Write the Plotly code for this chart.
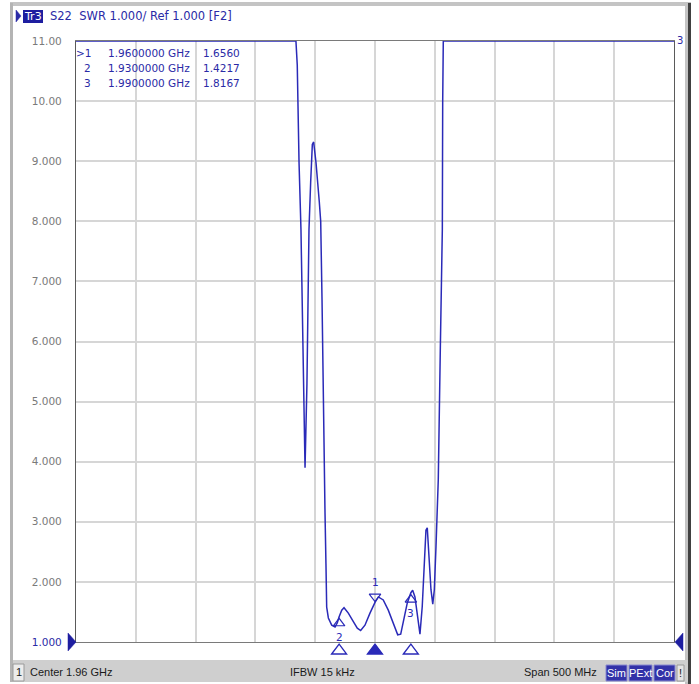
import plotly.graph_objects as go

# ---------------- data ----------------
freq_mhz = [1710.0, 1893.9, 1895.0, 1895.6, 1896.5, 1898.1, 1899.8, 1901.5, 1903.1,
            1904.8, 1906.2, 1907.1, 1907.6, 1908.7, 1909.4, 1910.7, 1913.4, 1914.6,
            1915.7, 1916.7, 1917.4, 1918.2, 1919.0, 1919.6, 1921.0, 1923.8, 1926.6,
            1928.5, 1930.0, 1932.2, 1934.1, 1937.7, 1941.9, 1945.2, 1948.0, 1951.6,
            1955.8, 1960.0, 1962.8, 1966.9, 1971.1, 1975.3, 1979.0, 1981.5, 1984.2,
            1987.0, 1990.0, 1991.5, 1993.4, 1995.4, 1997.6, 1999.5, 2001.0, 2002.6,
            2003.7, 2005.4, 2006.8, 2008.3, 2009.6, 2011.0, 2012.4, 2012.9, 2014.6,
            2016.3, 2016.6, 2017.1, 2210.0]
swr = [11.0, 11.0, 10.6, 9.85, 8.97, 7.86, 5.86, 3.9, 5.3,
       7.86, 8.65, 9.07, 9.28, 9.32, 9.2, 8.97, 8.33, 8.0,
       6.7, 5.0, 3.7, 3.15, 2.3, 1.58, 1.4, 1.28, 1.25,
       1.32, 1.42, 1.53, 1.57, 1.48, 1.34, 1.23, 1.19, 1.28,
       1.48, 1.66, 1.75, 1.70, 1.53, 1.31, 1.12, 1.13, 1.37,
       1.65, 1.82, 1.86, 1.75, 1.42, 1.13, 1.59, 2.31, 2.86,
       2.9, 2.42, 1.87, 1.63, 1.87, 2.59, 3.42, 3.7, 5.86,
       7.86, 9.97, 11.0, 11.0]

marker_ids = [">1", "2", "3"]
marker_num = ["1", "2", "3"]
marker_freq_ghz = [1.96, 1.93, 1.99]
marker_swr = [1.6560, 1.4217, 1.8167]
active_marker = 0

y_ticks = [1, 2, 3, 4, 5, 6, 7, 8, 9, 10, 11]
y_labels = ["1.000", "2.000", "3.000", "4.000", "5.000", "6.000", "7.000",
            "8.000", "9.000", "10.00", "11.00"]

center_ghz = 1.96
span_mhz = 500
header_text = "S22  SWR 1.000/ Ref 1.000 [F2]"
trace_tag = "Tr3"
footer_left = "Center 1.96 GHz"
footer_mid = "IFBW 15 kHz"
footer_right = "Span 500 MHz"
status_boxes = ["Sim", "PExt", "Cor"]

# ---------------- styling ----------------
W, H = 699, 684
L, R, T, B = 76, 674, 41, 642
TRACE = "#2a2ab8"
TXT_BLUE = "#2a2aa6"
GRID = "#d6d6d6"
FONT = "DejaVu Sans"
FOOT_FONT = "Liberation Sans"


def px(x):
    return (x - L) / (R - L)


def py(y):
    return (B - y) / (B - T)


freq_ghz = [f / 1000.0 for f in freq_mhz]
x0 = center_ghz - span_mhz / 2000.0
x1 = center_ghz + span_mhz / 2000.0
ghz_per_px = (x1 - x0) / (R - L)

fig = go.Figure()
fig.add_trace(go.Scatter(x=freq_ghz, y=swr, mode="lines",
                         line=dict(color=TRACE, width=1.5),
                         hoverinfo="skip", showlegend=False))

# markers on trace
fig.add_trace(go.Scatter(x=[marker_freq_ghz[0]], y=[marker_swr[0] + 0.1], mode="markers",
                         marker=dict(symbol="triangle-down-open", size=10,
                                     color=TRACE, line=dict(width=1.2, color=TRACE)),
                         hoverinfo="skip", showlegend=False, cliponaxis=False))
fig.add_trace(go.Scatter(x=marker_freq_ghz[1:], y=[v - 0.11 for v in marker_swr[1:]],
                         mode="markers",
                         marker=dict(symbol="triangle-up-open", size=10,
                                     color=TRACE, line=dict(width=1.2, color=TRACE)),
                         hoverinfo="skip", showlegend=False, cliponaxis=False))

annotations = []
# marker numbers on the trace
annotations.append(dict(x=marker_freq_ghz[0], y=marker_swr[0], xref="x", yref="y",
                        text=marker_num[0], showarrow=False, yshift=21,
                        font=dict(family=FONT, size=10.5, color=TRACE)))
for i in (1, 2):
    annotations.append(dict(x=marker_freq_ghz[i], y=marker_swr[i], xref="x", yref="y",
                            text=marker_num[i], showarrow=False, yshift=-20,
                            font=dict(family=FONT, size=10.5, color=TRACE)))

# marker table
for i in range(3):
    yy = py(53 + 15 * i)
    annotations.append(dict(x=px(93), y=yy, xref="paper", yref="paper", text=marker_ids[i],
                            xanchor="right", yanchor="middle", showarrow=False,
                            font=dict(family=FONT, size=10.5, color=TXT_BLUE)))
    annotations.append(dict(x=px(106), y=yy, xref="paper", yref="paper",
                            text=f"{marker_freq_ghz[i]:.7f} GHz",
                            xanchor="left", yanchor="middle", showarrow=False,
                            font=dict(family=FONT, size=10.5, color=TXT_BLUE)))
    annotations.append(dict(x=px(201), y=yy, xref="paper", yref="paper",
                            text=f"{marker_swr[i]:.4f}",
                            xanchor="left", yanchor="middle", showarrow=False,
                            font=dict(family=FONT, size=10.5, color=TXT_BLUE)))

# trace label at right end
annotations.append(dict(x=px(675), y=py(40), xref="paper", yref="paper", text="3",
                        xanchor="left", yanchor="middle", showarrow=False,
                        font=dict(family=FONT, size=10, color=TXT_BLUE)))

# header
annotations.append(dict(x=px(33), y=py(16), xref="paper", yref="paper", text=trace_tag,
                        xanchor="center", yanchor="middle", showarrow=False,
                        font=dict(family=FONT, size=11, color="white")))
annotations.append(dict(x=px(48), y=py(16), xref="paper", yref="paper", text=header_text,
                        xanchor="left", yanchor="middle", showarrow=False,
                        font=dict(family=FONT, size=11.5, color=TXT_BLUE)))

# footer
FOOT = "#1a1a1a"
annotations.append(dict(x=px(18.5), y=py(672), xref="paper", yref="paper", text="1",
                        xanchor="center", yanchor="middle", showarrow=False,
                        font=dict(family=FOOT_FONT, size=11, color=FOOT)))
annotations.append(dict(x=px(28), y=py(672), xref="paper", yref="paper", text=footer_left,
                        xanchor="left", yanchor="middle", showarrow=False,
                        font=dict(family=FOOT_FONT, size=11, color=FOOT)))
annotations.append(dict(x=px(288), y=py(672), xref="paper", yref="paper", text=footer_mid,
                        xanchor="left", yanchor="middle", showarrow=False,
                        font=dict(family=FOOT_FONT, size=11, color=FOOT)))
annotations.append(dict(x=px(599), y=py(672), xref="paper", yref="paper", text=footer_right,
                        xanchor="right", yanchor="middle", showarrow=False,
                        font=dict(family=FOOT_FONT, size=11, color=FOOT)))
box_x = [(606, 627), (629, 652), (654, 675)]
for (a, b), s in zip(box_x, status_boxes):
    annotations.append(dict(x=px((a + b) / 2), y=py(673), xref="paper", yref="paper", text=s,
                            xanchor="center", yanchor="middle", showarrow=False,
                            font=dict(family=FOOT_FONT, size=11, color="white")))
annotations.append(dict(x=px(680.5), y=py(673), xref="paper", yref="paper", text="!",
                        xanchor="center", yanchor="middle", showarrow=False,
                        font=dict(family=FOOT_FONT, size=11, color=FOOT)))

shapes = []


def rect(xa, ya, xb, yb, fill, line_color=None, lw=0, layer="below"):
    shapes.append(dict(type="rect", xref="paper", yref="paper",
                       x0=px(xa), x1=px(xb), y0=py(yb), y1=py(ya),
                       fillcolor=fill, line=dict(color=line_color or fill, width=lw),
                       layer=layer))


def poly(points, fill):
    d = "M " + " L ".join(f"{px(a):.5f},{py(b):.5f}" for a, b in points) + " Z"
    shapes.append(dict(type="path", xref="paper", yref="paper", path=d,
                       fillcolor=fill, line=dict(color=fill, width=0.5), layer="above"))


# outer frame
rect(10, 2, 691, 6, "#c4c4c4")
rect(10, 3, 13, 682, "#b4b4b4")
rect(685, 3, 688, 684, "#c4c4c4")
rect(688, 3, 691, 684, "#404040")
# status bar
rect(13, 660, 688, 682, "#cfcfcf")
rect(13, 664, 24, 681, "#ececec", "#9a9a9a", 1)
for a, b in box_x:
    rect(a, 665, b, 681, "#3232a8", "#8a8ad0", 1)
rect(677, 665, 684, 681, "#e4e4e4", "#9a9a9a", 1)
# header tag
rect(23, 10, 43, 23, "#1e1ea0")
poly([(16, 10), (21, 16), (16, 22)], TXT_BLUE)
# reference level triangles
poly([(68, 633), (76, 642), (68, 651)], "#1e1ea0")
poly([(683, 633), (675, 642), (683, 651)], "#1e1ea0")

# stimulus marker triangles below the axis, placed at marker frequencies
half_w = 7.5 * ghz_per_px
for i, f in enumerate(marker_freq_ghz):
    d = (f"M {f - half_w:.6f},{py(654):.5f} L {f:.6f},{py(644):.5f} "
         f"L {f + half_w:.6f},{py(654):.5f} Z")
    shapes.append(dict(type="path", xref="x", yref="paper", path=d,
                       fillcolor=TRACE if i == active_marker else "white",
                       line=dict(color=TRACE, width=1.3), layer="above"))

fig.update_layout(
    width=W, height=H, autosize=False,
    margin=dict(l=L, r=W - R, t=T, b=H - B, pad=0),
    paper_bgcolor="white", plot_bgcolor="white",
    showlegend=False,
    shapes=shapes, annotations=annotations,
    font=dict(family=FONT),
)
fig.update_xaxes(range=[x0, x1], tick0=x0, dtick=0.05, showticklabels=False,
                 showgrid=True, gridcolor=GRID, gridwidth=1.5, zeroline=False,
                 showline=True, mirror=True, linecolor="#7a7a7a", linewidth=1.2, ticks="")
y_text = [f'<span style="color:{TXT_BLUE}">{y_labels[0]}</span>'] + y_labels[1:]
fig.update_yaxes(range=[1, 11], tickvals=y_ticks, ticktext=y_text,
                 showgrid=True, gridcolor=GRID, gridwidth=1.5, zeroline=False,
                 showline=True, mirror=True, linecolor="#5a5a5a", linewidth=1.2, ticks="",
                 ticklabelstandoff=11,
                 tickfont=dict(family=FONT, size=10.5, color="#7a7a7a"))

fig.write_html("out.html", config={"displayModeBar": False},
               post_script="document.body.style.margin='0';document.body.style.overflow='hidden';")
